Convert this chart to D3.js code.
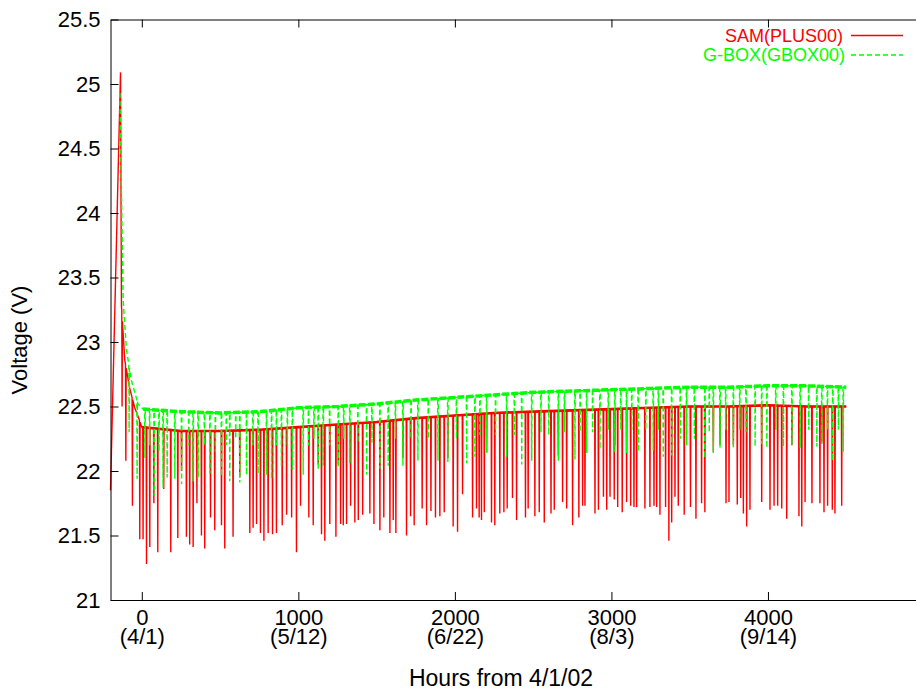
<!DOCTYPE html>
<html>
<head>
<meta charset="utf-8">
<script src="https://cdn.jsdelivr.net/npm/d3@7"></script>
<style>
  body { margin: 0; background: #fff; }
  svg { display: block; font-family: "Liberation Sans", Arial, sans-serif; }
</style>
</head>
<body>
<svg id="graph" width="916" height="690"></svg>
<script>
// tick labels
var xTicks = [0, 1000, 2000, 3000, 4000];
var xTickDates = ["(4/1)", "(5/12)", "(6/22)", "(8/3)", "(9/14)"];
var yTicks = [21, 21.5, 22, 22.5, 23, 23.5, 24, 24.5, 25, 25.5];

// SAM(PLUS00) - slow level of the bus voltage
var sam_level_hours = [-200, -136, -130, -109, -77, -45, -20, 0, 250, 500, 750, 1000, 1250, 1500,
  1750, 2000, 2250, 2500, 2750, 3000, 3250, 3500, 3750, 4000, 4250, 4500];
var sam_level = [21.85, 25.09, 23.28, 22.86, 22.64, 22.49, 22.41, 22.34, 22.31, 22.31, 22.32, 22.34, 22.36, 22.38,
  22.41, 22.43, 22.45, 22.46, 22.47, 22.48, 22.49, 22.5, 22.5, 22.51, 22.5, 22.5];

// SAM(PLUS00) - dips
var sam_dip_hours = [-126, -102, -60, -13, 8, 30, 51, 77, 102, 140, 185, 230, 254, 285, 306, 328, 352, 381, 402,
  439, 466, 509, 530, 583, 626, 690, 711, 733, 758, 780, 807, 835, 860, 897, 925, 957, 988, 1014, 1067, 1095,
  1127, 1148, 1169, 1201, 1240, 1255, 1270, 1287, 1308, 1334, 1361, 1383, 1411, 1457, 1483, 1521, 1546, 1585,
  1606, 1623, 1668, 1691, 1717, 1740, 1791, 1819, 1847, 1876, 1904, 1932, 1955, 1989, 2017, 2049, 2113, 2138,
  2155, 2170, 2188, 2203, 2234, 2255, 2287, 2313, 2334, 2368, 2394, 2451, 2468, 2511, 2539, 2571, 2614, 2635,
  2661, 2688, 2714, 2752, 2792, 2816, 2831, 2895, 2917, 2949, 2970, 2991, 3018, 3022, 3040, 3069, 3097, 3123,
  3144, 3161, 3214, 3246, 3272, 3289, 3310, 3346, 3367, 3385, 3406, 3427, 3465, 3505, 3540, 3576, 3597, 3651,
  3694, 3732, 3751, 3779, 3804, 3826, 3843, 3864, 3885, 3960, 4013, 4039, 4062, 4088, 4120, 4153, 4198, 4216,
  4237, 4281, 4332, 4344, 4358, 4381, 4411, 4428, 4471];
var sam_dip_lows = [22.50, 22.08, 21.73, 21.47, 21.47, 21.28, 21.41, 21.75, 21.37, 21.86, 21.37, 21.48, 22.00, 21.49,
  21.43, 21.41, 21.75, 21.50, 21.40, 21.64, 21.54, 21.58, 21.40, 21.49, 21.95, 21.52, 21.56, 21.59, 21.52, 21.46,
  21.52, 21.51, 21.52, 21.58, 21.66, 21.64, 21.37, 21.73, 21.64, 21.58, 22.05, 21.51, 21.46, 21.59, 21.49, 22.05,
  21.59, 21.58, 21.59, 21.73, 21.60, 21.62, 21.66, 21.67, 21.59, 21.54, 21.64, 21.52, 21.62, 21.52, 22.10, 21.50,
  21.65, 21.58, 21.71, 21.58, 21.69, 21.64, 21.65, 21.68, 22.10, 21.57, 21.53, 21.82, 21.64, 21.71, 21.64, 21.62,
  21.68, 22.15, 21.60, 21.58, 21.67, 21.68, 21.71, 21.79, 21.62, 21.64, 21.71, 21.65, 21.68, 21.60, 21.67, 21.70,
  22.12, 21.76, 21.71, 21.58, 21.64, 21.73, 21.73, 21.67, 21.70, 21.80, 21.70, 21.80, 21.78, 22.20, 21.72, 21.68,
  21.76, 21.73, 21.72, 21.72, 21.71, 21.72, 21.73, 21.72, 21.66, 21.72, 21.46, 21.60, 21.80, 21.73, 21.66, 21.72,
  21.63, 21.75, 21.68, 22.15, 22.20, 21.75, 21.76, 22.20, 21.74, 21.79, 21.67, 21.57, 21.70, 21.76, 21.70, 21.73,
  21.73, 21.71, 21.63, 22.20, 21.65, 21.57, 21.76, 21.75, 21.75, 22.22, 21.68, 21.73, 21.70, 21.67, 21.73];

// G-BOX(GBOX00) - slow level
var gbox_level_hours = [-140, -119, -98, -66, -24, 8, 250, 500, 750, 1000, 1250, 1500, 1750, 2000, 2250, 2500,
  2750, 3000, 3250, 3500, 3750, 4000, 4250, 4500];
var gbox_level = [24.93, 23.32, 22.94, 22.70, 22.52, 22.48, 22.46, 22.45, 22.46, 22.49, 22.50, 22.52, 22.55, 22.57,
  22.59, 22.61, 22.62, 22.63, 22.64, 22.65, 22.65, 22.66, 22.66, 22.65];

// G-BOX(GBOX00) - dips
var gbox_dip_hours = [-81, -30, 20, 50, 79, 110, 136, 162, 211, 254, 300, 328, 360, 400, 435, 470, 509, 540, 562,
  600, 626, 669, 710, 743, 797, 829, 860, 892, 930, 962, 1031, 1065, 1100, 1127, 1159, 1200, 1255, 1290, 1329,
  1380, 1436, 1470, 1521, 1574, 1620, 1668, 1720, 1764, 1830, 1892, 1955, 2010, 2075, 2128, 2160, 2203, 2260,
  2331, 2380, 2427, 2491, 2550, 2600, 2661, 2700, 2767, 2800, 2842, 2880, 2927, 2980, 3022, 3060, 3097, 3130,
  3171, 3220, 3267, 3300, 3331, 3385, 3440, 3480, 3530, 3597, 3625, 3651, 3694, 3730, 3779, 3820, 3860, 3918,
  3960, 3993, 4050, 4099, 4153, 4206, 4260, 4312, 4344, 4380, 4414, 4450, 4481];
var gbox_dip_lows = [22.30, 21.94, 22.10, 22.20, 21.81, 22.15, 21.87, 21.95, 21.94, 21.90, 22.20, 21.92, 21.95,
  22.20, 21.98, 22.15, 21.96, 22.20, 21.92, 22.25, 21.91, 21.97, 22.20, 21.98, 21.97, 21.94, 22.20, 22.04, 22.20,
  22.01, 21.97, 22.20, 22.25, 22.01, 22.04, 22.20, 22.03, 22.25, 22.06, 22.22, 21.97, 22.22, 22.02, 22.04, 22.25,
  22.04, 22.25, 22.08, 22.25, 22.08, 22.07, 22.25, 22.06, 22.11, 22.28, 22.14, 22.28, 22.11, 22.28, 22.05, 22.08,
  22.30, 22.28, 22.08, 22.30, 22.09, 22.30, 22.14, 22.30, 22.17, 22.32, 22.15, 22.32, 22.14, 22.32, 22.15, 22.32,
  22.16, 22.32, 22.11, 22.12, 22.25, 22.20, 22.25, 22.10, 22.30, 22.14, 22.18, 22.32, 22.18, 22.32, 22.30, 22.19,
  22.21, 22.18, 22.32, 22.19, 22.20, 22.18, 22.32, 22.19, 22.21, 22.32, 22.08, 22.32, 22.15];

var width = 916,
  height = 690;
var margin = { top: 19.5, right: -8.5, bottom: 90, left: 110.5 };
var fontSize = 22;

var x = d3.scaleLinear().domain([-200, 5000]).range([margin.left, width - margin.right]);
var y = d3.scaleLinear().domain([21, 25.5]).range([height - margin.bottom, margin.top]);

var graph = d3.select("#graph");

// level + short dips, sorted by time
function buildSeries(levelHours, levels, dipHours, dipLows) {
  var level = d3.scaleLinear().domain(levelHours).range(levels);
  var pts = levelHours.map(function (h, i) {
    return [h, levels[i]];
  });
  dipHours.forEach(function (h, i) {
    pts.push([h - 2, level(h - 2)], [h, dipLows[i]], [h + 2, level(h + 2)]);
  });
  pts.sort(function (a, b) {
    return a[0] - b[0];
  });
  return pts;
}

var line = d3
  .line()
  .x(function (d) { return x(d[0]); })
  .y(function (d) { return y(d[1]); });

function levelPoints(hours, levels) {
  return hours.map(function (h, i) { return [h, levels[i]]; });
}

// red: level band, then the full trace
graph
  .append("path")
  .datum(levelPoints(sam_level_hours.slice(7), sam_level.slice(7)))
  .attr("fill", "none")
  .attr("stroke", "#ff0000")
  .attr("stroke-width", 2.6)
  .attr("d", line);

graph
  .append("path")
  .datum(buildSeries(sam_level_hours, sam_level, sam_dip_hours, sam_dip_lows))
  .attr("fill", "none")
  .attr("stroke", "#ff0000")
  .attr("stroke-width", 1.4)
  .attr("d", line);

// green: level band, then the dashed trace
graph
  .append("path")
  .datum(levelPoints(gbox_level_hours.slice(5), gbox_level.slice(5)))
  .attr("fill", "none")
  .attr("stroke", "#00ff00")
  .attr("stroke-width", 3.5)
  .attr("stroke-dasharray", "7,2")
  .attr("d", line);

graph
  .append("path")
  .datum(buildSeries(gbox_level_hours, gbox_level, gbox_dip_hours, gbox_dip_lows))
  .attr("fill", "none")
  .attr("stroke", "#00ff00")
  .attr("stroke-width", 1.4)
  .attr("stroke-dasharray", "5,3")
  .attr("d", line);

// axes, ticks pointing inward like gnuplot
var xAxis = d3.axisBottom(x).tickValues(xTicks).tickSizeInner(-8).tickSizeOuter(0).tickPadding(9)
  .tickFormat(d3.format("d"));
var xAxisTop = d3.axisTop(x).tickValues(xTicks).tickSizeInner(-8).tickSizeOuter(0).tickFormat("");
var yAxis = d3.axisLeft(y).tickValues(yTicks).tickSizeInner(-8).tickSizeOuter(0).tickPadding(10)
  .tickFormat(d3.format(""));

var gx = graph
  .append("g")
  .attr("class", "axis")
  .attr("transform", "translate(0," + y(21) + ")")
  .call(xAxis);

gx.selectAll(".tick text")
  .append("tspan")
  .attr("x", 0)
  .attr("dy", "0.9em")
  .text(function (d, i) { return xTickDates[i]; });

graph
  .append("g")
  .attr("class", "axis")
  .attr("transform", "translate(0," + y(25.5) + ")")
  .call(xAxisTop);

graph
  .append("g")
  .attr("class", "axis")
  .attr("transform", "translate(" + x(-200) + ",0)")
  .call(yAxis);

graph.selectAll(".axis .tick text").attr("font-size", fontSize).attr("fill", "#000").attr("font-family", null);
graph.selectAll(".axis path, .axis line").attr("stroke", "#000");

// axis titles
graph
  .append("text")
  .attr("transform", "translate(27,340)rotate(-90)")
  .attr("text-anchor", "middle")
  .attr("font-size", fontSize)
  .text("Voltage (V)");

graph
  .append("text")
  .attr("x", 501)
  .attr("y", 686)
  .attr("text-anchor", "middle")
  .attr("font-size", 23)
  .text("Hours from 4/1/02");

// legend
var legendNames = ["SAM(PLUS00)", "G-BOX(GBOX00)"];
var legendColors = ["#ff0000", "#00ff00"];
var legendDash = [null, "5,3"];

var legend = graph
  .selectAll(".legend")
  .data(legendNames)
  .enter()
  .append("g")
  .attr("class", "legend")
  .attr("transform", function (d, i) { return "translate(0," + (35.5 + i * 19.5) + ")"; });

legend
  .append("text")
  .attr("x", function (d, i) { return i === 0 ? 843 : 845; })
  .attr("y", 6)
  .attr("text-anchor", "end")
  .attr("font-size", 18)
  .attr("fill", function (d, i) { return legendColors[i]; })
  .text(function (d) { return d; });

legend
  .append("line")
  .attr("x1", 851)
  .attr("x2", 903)
  .attr("stroke", function (d, i) { return legendColors[i]; })
  .attr("stroke-width", 1.4)
  .attr("stroke-dasharray", function (d, i) { return legendDash[i]; });
</script>
</body>
</html>
